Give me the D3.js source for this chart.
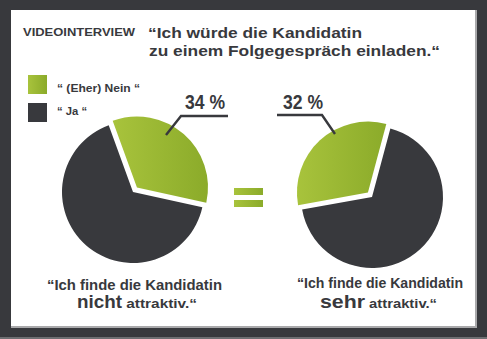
<!DOCTYPE html>
<html><head><meta charset="utf-8">
<script src="https://cdn.jsdelivr.net/npm/d3@7"></script>
<style>
html,body{margin:0;padding:0;background:#38393d;}
svg{display:block;}
text{font-family:"Liberation Sans",Arial,sans-serif;font-weight:bold;fill:#38393d;}
</style></head>
<body>
<svg id="chart" width="487" height="339"></svg>
<script>
// ---- data ----
const categories = ["“ (Eher) Nein “", "“ Ja “"];
const leftValues = [34, 66];
const rightValues = [32, 68];
const pctLabels = ["34 %", "32 %"];
const tag = "VIDEOINTERVIEW";
const titleLines = ["“Ich würde die Kandidatin", "zu einem Folgegespräch einladen.“"];
const captionLine1 = "“Ich finde die Kandidatin";
const captionEmph = ["nicht", "sehr"];
const captionTail = " attraktiv.“";

// ---- drawing ----
const svg = d3.select("#chart");
const W = 487, H = 339;
const dark = "#38393d";

const defs = svg.append("defs");
const g1 = defs.append("linearGradient").attr("id","green").attr("x1","0").attr("x2","1").attr("y1","0").attr("y2","0");
g1.append("stop").attr("offset","0").attr("stop-color","#a8c33c");
g1.append("stop").attr("offset","1").attr("stop-color","#8bab2a");
const color = d3.scaleOrdinal().domain(categories).range(["url(#green)", dark]);

svg.append("rect").attr("width",W).attr("height",H).attr("fill",dark);
svg.append("rect").attr("y",337).attr("width",W).attr("height",2).attr("fill","#6e6f72");
svg.append("rect").attr("x",11).attr("y",10).attr("width",466).attr("height",318).attr("fill","#a9a9ab");
svg.append("rect").attr("x",11).attr("y",10).attr("width",464).attr("height",316).attr("fill","#ffffff");

function fit(sel, len){ return sel.attr("textLength",len).attr("lengthAdjust","spacingAndGlyphs"); }

// header
fit(svg.append("text").attr("x",23).attr("y",35.5).attr("font-size",10).text(tag), 112);
const titleLens = [214, 291];
svg.selectAll("text.title").data(titleLines).join("text").attr("class","title")
  .attr("x",(d,i)=>i===0?148:149).attr("y",(d,i)=>38+i*17.5).attr("font-size",14.5)
  .attr("textLength",(d,i)=>titleLens[i]).attr("lengthAdjust","spacingAndGlyphs")
  .text(d=>d);

// legend
const legLens = [83, 30];
const leg = svg.selectAll("g.leg").data(categories).join("g").attr("class","leg")
  .attr("transform",(d,i)=>`translate(28,${75+i*28})`);
leg.append("rect").attr("width",19).attr("height",19).attr("fill",d=>color(d));
leg.append("text").attr("x",29).attr("y",(d,i)=>i===0?16.8:12.2).attr("font-size",10.5)
  .attr("textLength",(d,i)=>legLens[i]).attr("lengthAdjust","spacingAndGlyphs")
  .text(d=>d);

// pies
const r = 71;
const arc = d3.arc().innerRadius(0).outerRadius(r);
function drawPie(values, cx, cy, startDeg, explode){
  const pie = d3.pie().sort(null).value(d=>d.v)
    .startAngle(startDeg*Math.PI/180).endAngle((startDeg+360)*Math.PI/180);
  const g = svg.append("g").attr("transform",`translate(${cx},${cy})`);
  g.selectAll("path").data(pie(values.map((v,i)=>({cat:categories[i], v})))).join("path")
    .attr("d",arc)
    .attr("fill",d=>color(d.data.cat))
    .attr("transform",d=>{
      if(d.index!==0) return null;
      const m=(d.startAngle+d.endAngle)/2;
      return `translate(${explode*Math.sin(m)},${-explode*Math.cos(m)})`;
    });
  return g;
}
drawPie(leftValues, 133, 192, -20, 6);
drawPie(rightValues, 372, 197, -100.2, 6);

// leader lines
const line = d3.line();
svg.append("path").attr("d",line([[228,116],[181,116],[166,135]]))
  .attr("fill","none").attr("stroke",dark).attr("stroke-width",2.4);
svg.append("path").attr("d",line([[277,115],[322,115],[335,134]]))
  .attr("fill","none").attr("stroke",dark).attr("stroke-width",2.4);

// percent labels
svg.selectAll("text.pct").data(pctLabels).join("text").attr("class","pct")
  .attr("x",(d,i)=>i===0?185:283).attr("y",109)
  .attr("font-size",20.5)
  .attr("textLength",40).attr("lengthAdjust","spacingAndGlyphs")
  .style("font-family","'Liberation Sans Narrow','Arial Narrow',sans-serif")
  .text(d=>d);

// equals sign
svg.selectAll("rect.eq").data([0,1]).join("rect").attr("class","eq")
  .attr("x",234).attr("y",d=>188+d*12).attr("width",29).attr("height",7)
  .attr("fill","url(#green)");

// captions
const cap1 = [{x:47,y:290,len:175},{x:297,y:288,len:166}];
const cap2 = [{x:77,len1:45,len2:75},{x:320,len1:45,len2:72}];
captionEmph.forEach((w,i)=>{
  fit(svg.append("text").attr("x",cap1[i].x).attr("y",cap1[i].y)
    .attr("font-size",14).text(captionLine1), cap1[i].len);
  const t = svg.append("text").attr("x",cap2[i].x).attr("y",308);
  fit(t.append("tspan").attr("font-size",19).text(w), cap2[i].len1);
  fit(t.append("tspan").attr("font-size",12).text(captionTail), cap2[i].len2);
});
</script>
</body></html>
